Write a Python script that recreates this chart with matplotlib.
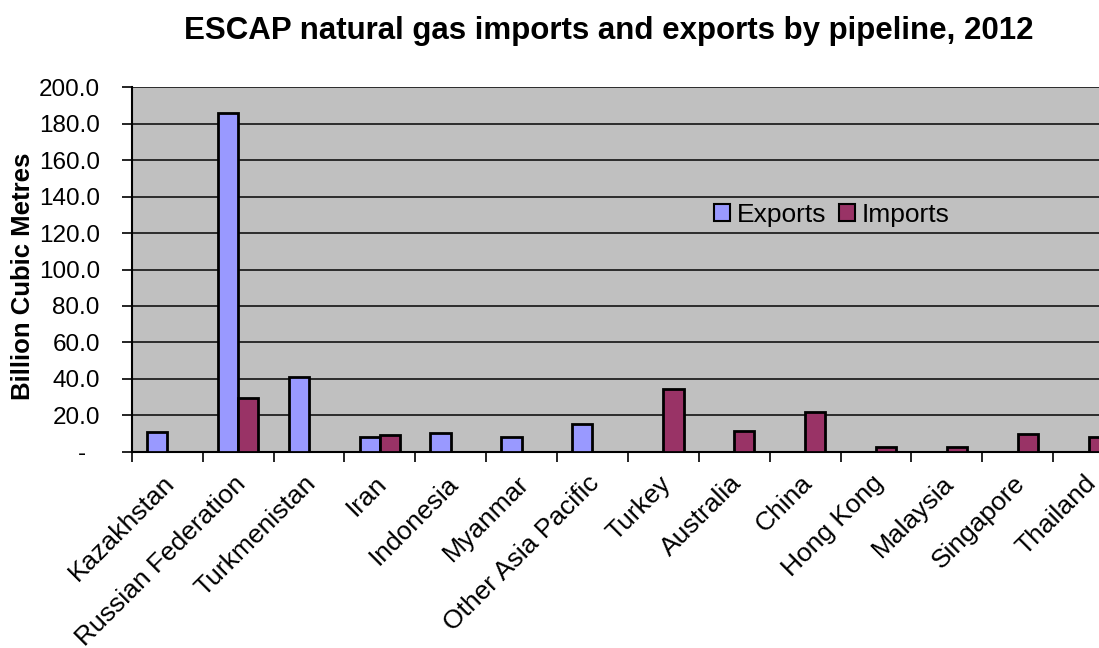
import matplotlib
matplotlib.use("Agg")
import matplotlib.pyplot as plt
import matplotlib.transforms as mtransforms
import numpy as np
from matplotlib.patches import Patch

categories = ["Kazakhstan", "Russian Federation", "Turkmenistan", "Iran", "Indonesia",
              "Myanmar", "Other Asia Pacific", "Turkey", "Australia", "China",
              "Hong Kong", "Malaysia", "Singapore", "Thailand"]
exports = [10.8, 186.1, 41.2, 8.1, 10.3, 8.1, 15.2, 0, 0, 0, 0, 0, 0, 0]
imports = [0, 29.6, 0, 9.3, 0, 0, 0, 34.6, 11.2, 21.6, 2.6, 2.6, 9.5, 8.2]
yticks = [0, 20, 40, 60, 80, 100, 120, 140, 160, 180, 200]
ytick_labels = ["-  ", "20.0", "40.0", "60.0", "80.0", "100.0", "120.0", "140.0",
                "160.0", "180.0", "200.0"]

plt.rcParams['font.family'] = ['Liberation Sans', 'DejaVu Sans']

W, H = 1099, 648
fig = plt.figure(figsize=(W / 100, H / 100), dpi=100)
fig.patch.set_facecolor("white")

left, right = 131.8 / W, 1124 / W
bottom, top = (H - 451.7) / H, (H - 87.3) / H
ax = fig.add_axes([left, bottom, right - left, top - bottom])
ax.set_facecolor("#C0C0C0")

x = np.arange(len(categories))
bw = 1 / 3.5
exp_vals = np.array(exports)
imp_vals = np.array(imports)
mask_e = exp_vals > 0
mask_i = imp_vals > 0
ax.bar(x[mask_e], exp_vals[mask_e], width=bw, align='edge', color="#9999FF",
       edgecolor="black", linewidth=2.0, zorder=3)
ax.bar(x[mask_i] + bw, imp_vals[mask_i], width=bw, align='edge', color="#993366",
       edgecolor="black", linewidth=2.0, zorder=3)
ax.set_xlim(-0.5 + bw, len(categories) - 0.5 + bw)

ax.set_ylim(0, 200)
ax.set_yticks(yticks)
ax.set_yticklabels(ytick_labels, fontsize=17.5)
ax.yaxis.grid(True, color="#202020", linewidth=1.3, zorder=1)
ax.set_axisbelow(True)

centers = x + bw
ax.set_xticks(np.arange(len(categories) + 1) - 0.5 + bw)
ax.set_xticklabels([])
ax.set_xticks(centers, minor=True)
ax.set_xticklabels(categories, minor=True, rotation=45, ha='right',
                   rotation_mode='anchor', fontsize=19)
ax.tick_params(axis='x', which='minor', length=0, pad=14)
ax.tick_params(axis='x', which='major', length=7, width=1.2, direction='out')
ax.tick_params(axis='y', length=7, width=1.2, direction='out', pad=16)
shift = mtransforms.ScaledTranslation(-5 / 100, 0, fig.dpi_scale_trans)
for lbl in ax.get_xticklabels(minor=True):
    lbl.set_transform(lbl.get_transform() + shift)

for s in ['top', 'right']:
    ax.spines[s].set_visible(False)
ax.spines['left'].set_linewidth(1.5)
ax.spines['bottom'].set_linewidth(1.5)

fig.text(608.5 / W, 1 - 31 / H, "ESCAP natural gas imports and exports by pipeline, 2012",
         ha='center', va='center', fontsize=22.5, fontweight='bold')
fig.text(23 / W, 1 - 276 / H, "Billion Cubic Metres", rotation=90, ha='center',
         va='center', fontsize=18.5, fontweight='bold')

handles = [Patch(facecolor="#9999FF", edgecolor="black", linewidth=1.5, label="Exports"),
           Patch(facecolor="#993366", edgecolor="black", linewidth=1.5, label="Imports")]
fig.legend(handles=handles, loc='center', bbox_to_anchor=(832 / W, 1 - 215 / H), ncol=2,
           frameon=False, fontsize=19, handlelength=0.6, handleheight=0.6,
           handletextpad=0.25, columnspacing=0.5, borderaxespad=0)

fig.savefig("out.png", dpi=100)
